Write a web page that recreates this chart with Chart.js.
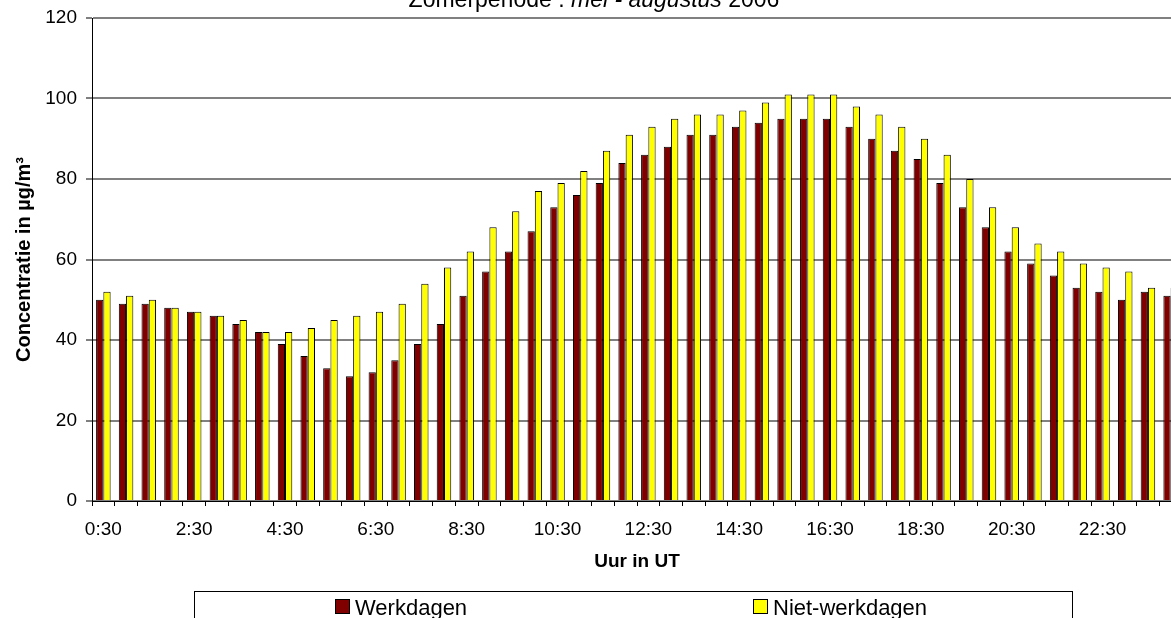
<!DOCTYPE html>
<html>
<head>
<meta charset="utf-8">
<script src="https://cdn.jsdelivr.net/npm/chart.js@4.4.0/dist/chart.umd.min.js"></script>
<style>
html,body{margin:0;padding:0;background:#fff;overflow:hidden;}
#wrap{position:relative;width:1171px;height:618px;overflow:hidden;background:#fff;}
#chart{position:absolute;left:0;top:-20px;}
</style>
</head>
<body>
<div id="wrap"><canvas id="chart" width="1190" height="660"></canvas></div>
<script>
// half-hourly categories
const uren = ['0:30','1:00','1:30','2:00','2:30','3:00','3:30','4:00',
    '4:30','5:00','5:30','6:00','6:30','7:00','7:30','8:00',
    '8:30','9:00','9:30','10:00','10:30','11:00','11:30','12:00',
    '12:30','13:00','13:30','14:00','14:30','15:00','15:30','16:00',
    '16:30','17:00','17:30','18:00','18:30','19:00','19:30','20:00',
    '20:30','21:00','21:30','22:00','22:30','23:00','23:30','24:00'];
const zichtbareLabels = ['0:30','2:30','4:30','6:30','8:30','10:30','12:30','14:30','16:30','18:30','20:30','22:30'];

const werkdagen = [50,49,49,48,47,46,44,42,39,36,33,31,32,35,39,44,
    51,57,62,67,73,76,79,84,86,88,91,91,93,94,95,95,
    95,93,90,87,85,79,73,68,62,59,56,53,52,50,52,51];
const nietWerkdagen = [52,51,50,48,47,46,45,42,42,43,45,46,47,49,54,58,
    62,68,72,77,79,82,87,91,93,95,96,96,97,99,101,101,
    101,98,96,93,90,86,80,73,68,64,62,59,58,57,53,53];

const titelDelen = [
    {text:'Zomerperiode : ', italic:false},
    {text:'mei - augustus', italic:true},
    {text:' 2006', italic:false}
];

const FONT = 'Arial, "Liberation Sans", sans-serif';
Chart.defaults.font.family = FONT;
Chart.defaults.color = '#000';

// title with an italic part, drawn on the canvas
const titelPlugin = {
    id: 'titel',
    afterDraw(chart) {
        const ctx = chart.ctx;
        ctx.save();
        ctx.fillStyle = '#000';
        ctx.textBaseline = 'alphabetic';
        let total = 0;
        titelDelen.forEach(d => {
            ctx.font = (d.italic ? 'italic ' : '') + '23px ' + FONT;
            d.w = ctx.measureText(d.text).width;
            total += d.w;
        });
        let x = 594 - total / 2;
        titelDelen.forEach(d => {
            ctx.font = (d.italic ? 'italic ' : '') + '23px ' + FONT;
            ctx.fillText(d.text, x, 27);
            x += d.w;
        });
        ctx.restore();
    }
};

// boxed legend like the spreadsheet one
const legendaPlugin = {
    id: 'legenda',
    afterDraw(chart) {
        const ctx = chart.ctx;
        ctx.save();
        ctx.strokeStyle = '#000';
        ctx.lineWidth = 1;
        ctx.strokeRect(194.5, 611.5, 878, 42);
        const posities = [335, 753];
        chart.data.datasets.forEach((ds, i) => {
            const x = posities[i];
            ctx.fillStyle = ds.backgroundColor;
            ctx.fillRect(x, 619, 15, 15);
            ctx.strokeRect(x + 0.5, 619.5, 14, 14);
            ctx.fillStyle = '#000';
            ctx.font = '22px ' + FONT;
            ctx.textBaseline = 'alphabetic';
            ctx.fillText(ds.label, x + 20, 635);
        });
        ctx.restore();
    }
};

const ctx = document.getElementById('chart').getContext('2d');
const grafiek = new Chart(ctx, {
    type: 'bar',
    data: {
        labels: uren,
        datasets: [{
            label: 'Werkdagen',
            data: werkdagen,
            backgroundColor: '#800000',
            borderColor: '#000',
            borderWidth: 1,
            barPercentage: 1,
            categoryPercentage: 0.64
        }, {
            label: 'Niet-werkdagen',
            data: nietWerkdagen,
            backgroundColor: '#ffff00',
            borderColor: '#000',
            borderWidth: 1,
            barPercentage: 1,
            categoryPercentage: 0.64
        }]
    },
    options: {
        responsive: false,
        animation: false,
        devicePixelRatio: 1,
        layout: {padding: {top: 38, left: 0, right: 8, bottom: 59}},
        plugins: {
            legend: {display: false},
            title: {display: false},
            tooltip: {enabled: false}
        },
        scales: {
            x: {
                afterFit: s => { s.height = 80; },
                grid: {
                    offset: true,
                    drawOnChartArea: false,
                    drawTicks: true,
                    tickLength: 5,
                    color: '#000',
                    tickColor: '#000',
                    lineWidth: 1
                },
                border: {display: true, color: '#000', width: 1},
                ticks: {
                    autoSkip: false,
                    maxRotation: 0,
                    padding: 12,
                    font: {size: 19},
                    callback: function(val, i) {
                        const l = uren[i];
                        return zichtbareLabels.includes(l) ? l : '';
                    }
                },
                title: {
                    display: true,
                    text: 'Uur in UT',
                    font: {size: 19, weight: 'bold'},
                    padding: {top: 0, bottom: 8}
                }
            },
            y: {
                min: 0,
                max: 120,
                afterFit: s => { s.width = 92; },
                grid: {
                    color: '#808080',
                    lineWidth: 2,
                    tickColor: '#000',
                    tickWidth: 1,
                    tickLength: 6
                },
                border: {display: true, color: '#000', width: 1},
                ticks: {
                    stepSize: 20,
                    padding: 9,
                    font: {size: 19}
                },
                title: {
                    display: true,
                    text: 'Concentratie in µg/m³',
                    font: {size: 20, weight: 'bold'},
                    padding: {top: 12, bottom: 0}
                }
            }
        }
    },
    plugins: [titelPlugin, legendaPlugin]
});
</script>
</body>
</html>
